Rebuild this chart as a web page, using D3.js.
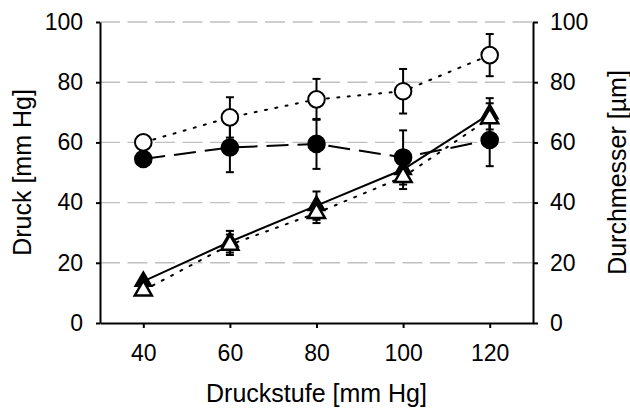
<!DOCTYPE html>
<html>
<head>
<meta charset="utf-8">
<script src="https://cdn.jsdelivr.net/npm/d3@7/dist/d3.min.js"></script>
<style>
  html, body { margin: 0; padding: 0; background: #fff; }
  svg { display: block; font-family: Arial, "Liberation Sans", sans-serif; }
</style>
</head>
<body>
<svg id="chart" width="630" height="408"></svg>
<script>
// Pressure stages (x) and measured series
const stages = [40, 60, 80, 100, 120];
const yTicks = [0, 20, 40, 60, 80, 100];
const xTicks = [40, 60, 80, 100, 120];

// Open circles, dotted line
const openCircle = [60, 68.3, 74.3, 77, 89];
const openCircleErr = [0, 6.7, 6.8, 7.4, 7];
// Filled circles, dashed line
const filledCircle = [54.5, 58.3, 59.5, 55, 60.8];
const filledCircleErr = [0, 8.2, 8.3, 9, 8.7];
// Filled triangles, solid line
const filledTri = [13.8, 27, 39, 51, 69.5];
const filledTriErr = [0, 3.6, 4.7, 4, 5.2];
// Open triangles, dotted line
const openTri = [10.8, 26, 36.5, 48.5, 68];
const openTriErr = [0, 3.4, 3.3, 4, 5];

const leftTitle = "Druck [mm Hg]";
const rightTitle = "Durchmesser [µm]";
const bottomTitle = "Druckstufe [mm Hg]";

const svg = d3.select("#chart");
const plot = { left: 100, right: 533, top: 22, bottom: 323 };

const x = d3.scaleLinear().domain([30, 130]).range([plot.left, plot.right]);
const y = d3.scaleLinear().domain([0, 100]).range([plot.bottom, plot.top]);

// dashed horizontal grid
svg.append("g").selectAll("line")
  .data(yTicks.filter(v => v > 0))
  .join("line")
  .attr("x1", plot.left).attr("x2", plot.right)
  .attr("y1", d => y(d)).attr("y2", d => y(d))
  .attr("stroke", "#c0c0c0").attr("stroke-width", 1.4)
  .attr("stroke-dasharray", "20 7.5");

function styleAxis(g) {
  g.select(".domain").attr("stroke", "#000").attr("stroke-width", 2);
  g.selectAll(".tick line").attr("stroke", "#000").attr("stroke-width", 2);
  g.selectAll(".tick text").attr("fill", "#000").attr("font-size", 23)
    .attr("font-family", "Arial, 'Liberation Sans', sans-serif");
}

svg.append("g").attr("transform", `translate(${plot.left},0)`)
  .call(d3.axisLeft(y).tickValues(yTicks).tickFormat(d3.format("d"))
    .tickSize(4).tickSizeOuter(0).tickPadding(13))
  .call(styleAxis);

svg.append("g").attr("transform", `translate(${plot.right},0)`)
  .call(d3.axisRight(y).tickValues(yTicks).tickFormat(d3.format("d"))
    .tickSize(5).tickSizeOuter(0).tickPadding(12))
  .call(styleAxis);

svg.append("g").attr("transform", `translate(0,${plot.bottom})`)
  .call(d3.axisBottom(x).tickValues(xTicks).tickFormat(d3.format("d"))
    .tickSize(5).tickSizeOuter(0).tickPadding(17))
  .call(styleAxis);

// axis titles
svg.append("text")
  .attr("transform", `translate(31,${(plot.top + plot.bottom) / 2}) rotate(-90)`)
  .attr("text-anchor", "middle").attr("font-size", 25).text(leftTitle);
svg.append("text")
  .attr("transform", `translate(626,${(plot.top + plot.bottom) / 2}) rotate(-90)`)
  .attr("text-anchor", "middle").attr("font-size", 25).text(rightTitle);
svg.append("text")
  .attr("x", (plot.left + plot.right) / 2).attr("y", 401.5)
  .attr("text-anchor", "middle").attr("font-size", 25).text(bottomTitle);

const series = [
  { vals: filledTri, err: filledTriErr, dash: null, shape: "tri", fill: "#000" },
  { vals: openTri, err: openTriErr, dash: "2 8.5", shape: "tri", fill: "#fff" },
  { vals: filledCircle, err: filledCircleErr, dash: "22 9", shape: "circle", fill: "#000" },
  { vals: openCircle, err: openCircleErr, dash: "2 8.5", shape: "circle", fill: "#fff" }
];

const line = d3.line().x(d => x(d.x)).y(d => y(d.v));

// connecting lines
series.forEach(s => {
  const pts = stages.map((xv, i) => ({ x: xv, v: s.vals[i] }));
  svg.append("path").datum(pts)
    .attr("d", line).attr("fill", "none")
    .attr("stroke", "#000").attr("stroke-width", 2)
    .attr("stroke-linecap", s.dash && s.dash.startsWith("2 ") ? "round" : "butt")
    .attr("stroke-dasharray", s.dash);
});

// error bars
series.forEach(s => {
  const g = svg.append("g").attr("stroke", "#000").attr("stroke-width", 2);
  stages.forEach((xv, i) => {
    if (!s.err[i]) return;
    const lo = y(s.vals[i] - s.err[i]), hi = y(s.vals[i] + s.err[i]), cx = x(xv);
    g.append("line").attr("x1", cx).attr("x2", cx).attr("y1", lo).attr("y2", hi);
    g.append("line").attr("x1", cx - 4).attr("x2", cx + 4).attr("y1", lo).attr("y2", lo);
    g.append("line").attr("x1", cx - 4).attr("x2", cx + 4).attr("y1", hi).attr("y2", hi);
  });
});

// markers
const triPath = d3.symbol().type(d3.symbolTriangle).size(125)();
series.forEach(s => {
  const g = svg.append("g");
  stages.forEach((xv, i) => {
    const cx = x(xv), cy = y(s.vals[i]);
    if (s.shape === "circle") {
      g.append("circle").attr("cx", cx).attr("cy", cy).attr("r", 8.3)
        .attr("fill", s.fill).attr("stroke", "#000").attr("stroke-width", 2);
    } else {
      g.append("path").attr("d", triPath)
        .attr("transform", `translate(${cx},${cy})`)
        .attr("fill", s.fill).attr("stroke", "#000")
        .attr("stroke-width", s.fill === "#fff" ? 2.5 : 1.5)
        .attr("stroke-linejoin", "miter");
    }
  });
});
</script>
</body>
</html>
